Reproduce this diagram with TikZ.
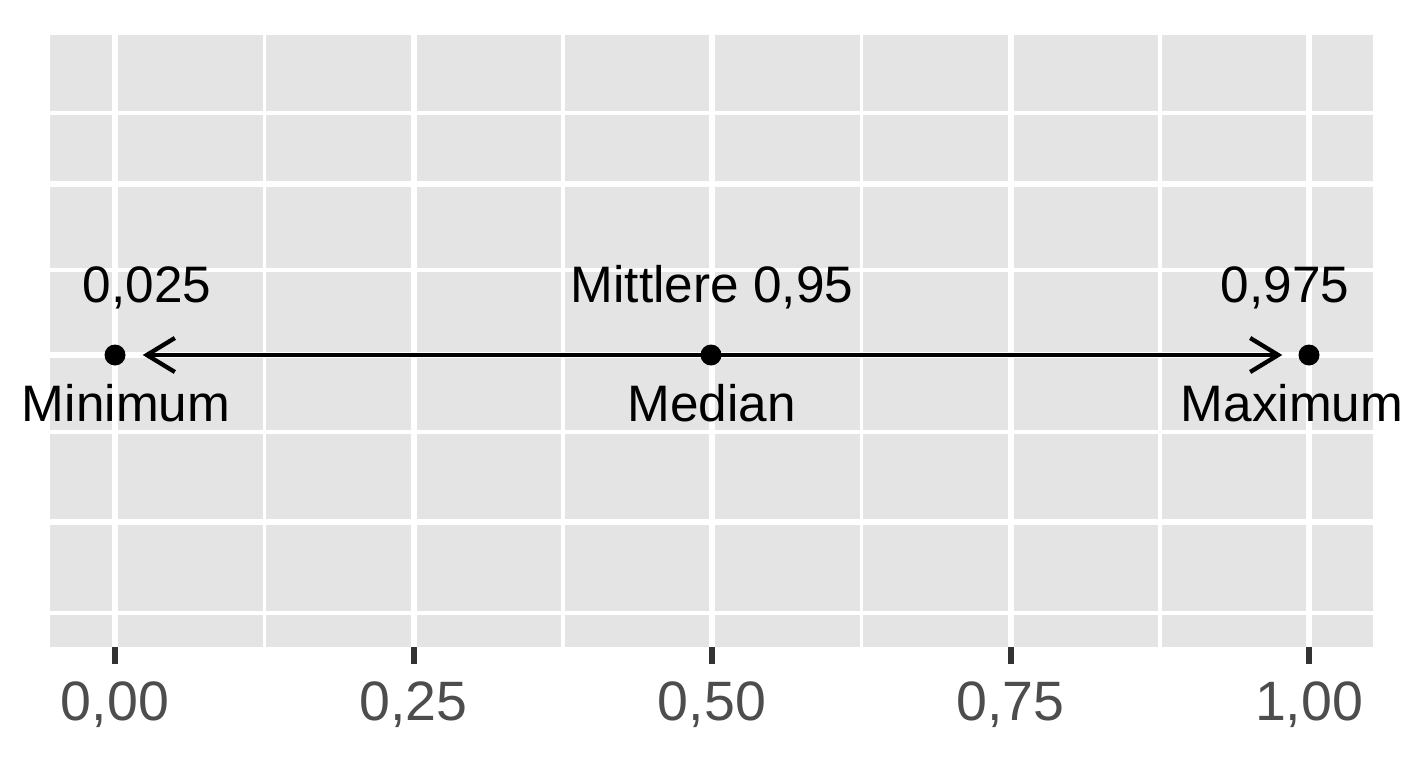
\documentclass[tikz,border=0pt]{standalone}
\usepackage{fontspec}
\setmainfont{Liberation Sans}
\usetikzlibrary{arrows.meta}
\definecolor{panelgray}{RGB}{228,228,228}
\definecolor{ticklabel}{RGB}{77,77,77}
\definecolor{tickgray}{RGB}{51,51,51}
\tikzset{
  majorgrid/.style={white, line width=6pt},
  minorgrid/.style={white, line width=3.5pt},
  dotnode/.style={circle, fill=black, inner sep=0pt, minimum size=21pt},
  lbl/.style={anchor=base, inner sep=0pt, font=\fontsize{51.3}{60}\selectfont},
  ticklbl/.style={anchor=base, inner sep=0pt, text=ticklabel, font=\fontsize{55.5}{66}\selectfont},
  arr/.style={line width=4.3pt, -{Straight Barb[length=28pt,width=34pt,line width=4.3pt]}},
  tickmark/.style={tickgray, line width=6pt},
}
\begin{document}
\begin{tikzpicture}[x=1pt,y=-1pt]
\useasboundingbox (0,0) rectangle (1408,768);
\fill[white] (0,0) rectangle (1408,768);
% panel
\fill[panelgray] (50,35) rectangle (1373,647);
% minor grid
\foreach \y in {113,270,432,613} \draw[minorgrid] (50,\y) -- (1373,\y);
\foreach \x in {264.25,562.75,861.25,1159.75} \draw[minorgrid] (\x,35) -- (\x,647);
% major grid
\foreach \y in {183.5,355,521.5} \draw[majorgrid] (50,\y) -- (1373,\y);
\foreach \x in {115,413.5,712,1010.5,1309} \draw[majorgrid] (\x,35) -- (\x,647);
% ticks and labels
\foreach \x/\t in {115/{0,00},413.5/{0,25},712/{0,50},1010.5/{0,75},1309/{1,00}} {
  \draw[tickmark] (\x,647) -- (\x,664);
  \node[ticklbl] at (\x,720) {\t};
}
% points
\node[dotnode] (min) at (115,355) {};
\node[dotnode] (med) at (711,355) {};
\node[dotnode] (max) at (1309,355) {};
\coordinate (lefttip) at ([xshift=17pt]min.east);
\coordinate (righttip) at ([xshift=-16pt]max.west);
\draw[arr] (med.center) -- (lefttip);
\draw[arr] (med.center) -- (righttip);
% labels
\node[lbl] (lminv) at (147,302) {0,025};
\node[lbl] (lmin) at (126,421) {Minimum};
\node[lbl] (lmedv) at (712,302) {Mittlere 0,95};
\node[lbl] (lmed) at (711.5,421) {Median};
\node[lbl] (lmaxv) at (1285,302) {0,975};
\node[lbl] (lmax) at (1292,421) {Maximum};
\end{tikzpicture}
\end{document}
